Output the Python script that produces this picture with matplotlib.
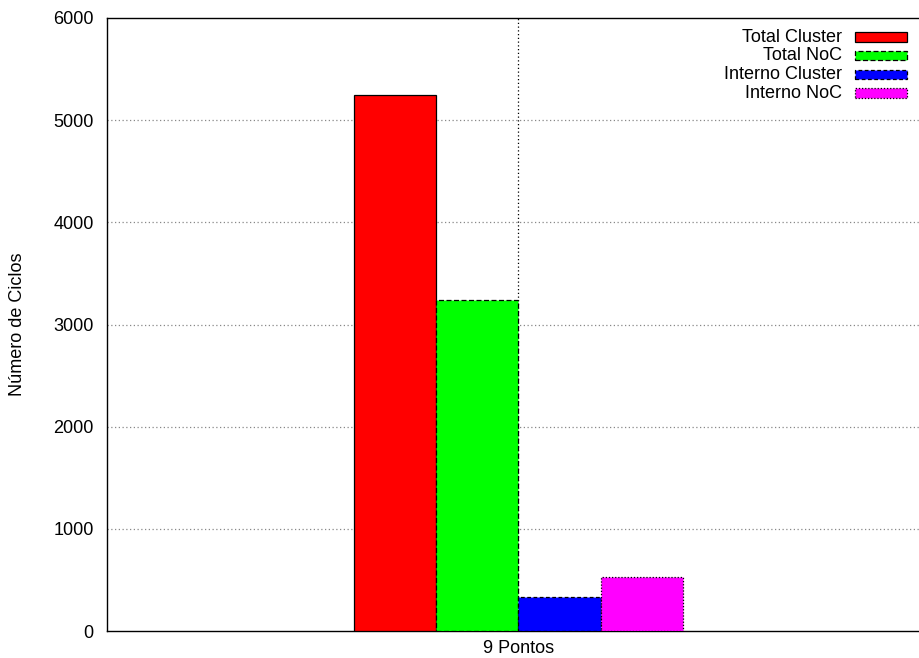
import matplotlib
matplotlib.use("Agg")
import matplotlib.pyplot as plt
from matplotlib.patches import Rectangle

plt.rcParams['font.family'] = ['Liberation Sans', 'DejaVu Sans']

categories = ["9 Pontos"]
series = ["Total Cluster", "Total NoC", "Interno Cluster", "Interno NoC"]
values = {
    "Total Cluster": [5250],
    "Total NoC": [3240],
    "Interno Cluster": [330],
    "Interno NoC": [525],
}
colors = ["#ff0000", "#00ff00", "#0000ff", "#ff00ff"]
edge_styles = ["-", (0, (4, 2)), (0, (3, 2)), (0, (1, 1.5))]
yticks = [0, 1000, 2000, 3000, 4000, 5000, 6000]
FS = 13

fig = plt.figure(figsize=(9.2, 6.58), dpi=100)
ax = fig.add_axes([107 / 920, 27 / 658, 823 / 920, 613 / 658])

n = len(series)
for i, name in enumerate(series):
    for j, cat in enumerate(categories):
        x = j * 10 + (i - (n - 1) / 2)
        ax.bar(x, values[name][j], width=1.0, color=colors[i],
               edgecolor="black", linewidth=0.9, linestyle=edge_styles[i],
               zorder=3)

ax.set_xlim(-5, 5)
ax.set_ylim(0, 6000)
ax.set_yticks(yticks)
ax.set_yticklabels([str(v) for v in yticks], fontsize=FS)
ax.set_xticks([j * 10 for j in range(len(categories))])
ax.set_xticklabels(categories, fontsize=FS)
ax.tick_params(axis='both', direction='in', length=0)
ax.tick_params(axis='y', pad=9.5)
ax.tick_params(axis='x', pad=6.5)

for v in yticks[1:-1]:
    ax.axhline(v, color="#888888", linestyle=(0, (1, 2)), linewidth=0.9, zorder=1)
ax.axvline(0, color="black", linestyle=(0, (1, 2)), linewidth=0.9, zorder=1)

for s in ax.spines.values():
    s.set_linewidth(1.0)
    s.set_color("black")

ax.set_ylabel("Número de Ciclos", fontsize=FS)
ax.yaxis.set_label_coords(-0.099, 0.5)

# legend drawn in figure pixel coordinates
rows_y = [37, 55.5, 74.5, 93]
for i, name in enumerate(series):
    yc = 1 - rows_y[i] / 658
    fig.text(842 / 920, yc, name, ha="right", va="center", fontsize=FS)
    rect = Rectangle((855 / 920, yc - 4.5 / 658), 52 / 920, 9 / 658,
                     transform=fig.transFigure, facecolor=colors[i],
                     edgecolor="black", linewidth=0.9, linestyle=edge_styles[i])
    fig.add_artist(rect)

fig.savefig("out.png", dpi=100)
